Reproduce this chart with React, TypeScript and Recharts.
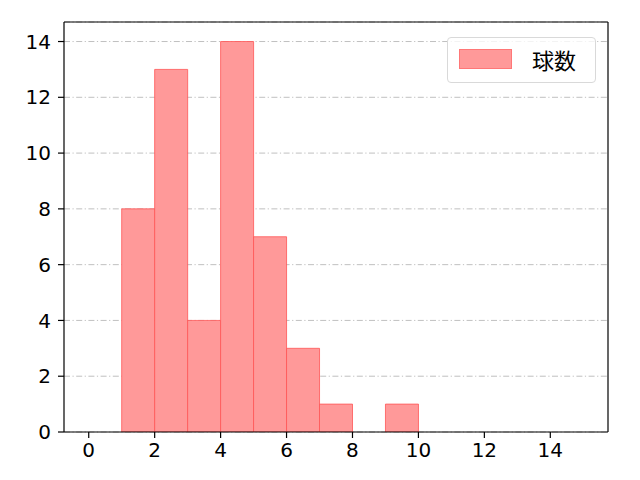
import React from "react";
import {
  ComposedChart,
  Bar,
  XAxis,
  YAxis,
  CartesianGrid,
  ReferenceLine,
} from "recharts";

// histogram bins [edge, edge+1)
const binEdges = [0, 1, 2, 3, 4, 5, 6, 7, 8, 9, 10, 11, 12, 13, 14];
const counts = [0, 8, 13, 4, 14, 7, 3, 1, 0, 1, 0, 0, 0, 0, 0];
const xTicks = [0, 2, 4, 6, 8, 10, 12, 14];
const yTicks = [0, 2, 4, 6, 8, 10, 12, 14];
const seriesName = "球数";

const data = binEdges.map((edge, i) => ({ bin: String(edge), edge, count: counts[i] }));

const TICK_FONT = "'DejaVu Sans', sans-serif";
const CJK_FONT = "'Noto Sans CJK JP', sans-serif";
const X_MIN = -0.75;
const X_MAX = 15.75;
const Y_MAX = 14.7;

const plotWidth = 544;
const pad = (plotWidth * 0.75) / (X_MAX - X_MIN);

function LegendBox() {
  return (
    <div
      style={{
        position: "absolute",
        left: 447,
        top: 37,
        width: 149,
        height: 46,
        border: "1px solid #d9d9d9",
        borderRadius: 4,
        background: "rgba(255,255,255,0.8)",
        boxSizing: "border-box",
        fontFamily: CJK_FONT,
        fontSize: 22,
        color: "#000",
      }}
    >
      <div
        style={{
          position: "absolute",
          left: 11,
          top: 11,
          width: 53,
          height: 20,
          background: "#ff9999",
          border: "1px solid #ff7777",
          boxSizing: "border-box",
        }}
      />
      <div style={{ position: "absolute", left: 84, top: 6, lineHeight: "30px" }}>{seriesName}</div>
    </div>
  );
}

export default function App() {
  return (
    <div style={{ position: "absolute", left: 0, top: 0, width: 640, height: 480, background: "#fff" }}>
      <ComposedChart
        width={640}
        height={480}
        data={data}
        margin={{ top: 22, right: 32, bottom: 18, left: 14 }}
        barCategoryGap={0}
        barGap={0}
      >
        <CartesianGrid
          vertical={false}
          stroke="#b0b0b0"
          strokeWidth={0.8}
          strokeDasharray="6 2.5 1.2 2.5"
          yAxisId="y"
          xAxisId="num"
        />
        <XAxis
          xAxisId="num"
          dataKey="edge"
          type="number"
          domain={[X_MIN, X_MAX]}
          ticks={xTicks}
          allowDataOverflow
          height={30}
          stroke="#000"
          strokeWidth={1.2}
          tickSize={6}
          tickMargin={5}
          tick={{ fill: "#000", fontSize: 20, fontFamily: TICK_FONT }}
        />
        <XAxis xAxisId="cat" dataKey="bin" type="category" hide height={0} padding={{ left: pad, right: pad }} />
        <YAxis
          yAxisId="y"
          type="number"
          domain={[0, Y_MAX]}
          ticks={yTicks}
          allowDataOverflow
          width={50}
          stroke="#000"
          strokeWidth={1.2}
          tickSize={6}
          tickMargin={7}
          tick={{ fill: "#000", fontSize: 20, fontFamily: TICK_FONT }}
        />
        <Bar
          xAxisId="cat"
          yAxisId="y"
          dataKey="count"
          name={seriesName}
          fill="#ff9999"
          stroke="#ff5555"
          strokeWidth={0.8}
          isAnimationActive={false}
        />
        <ReferenceLine xAxisId="num" yAxisId="y" y={Y_MAX} stroke="#000" strokeWidth={1.2} />
        <ReferenceLine xAxisId="num" yAxisId="y" x={X_MAX} stroke="#000" strokeWidth={1.2} />
      </ComposedChart>
      <LegendBox />
    </div>
  );
}
